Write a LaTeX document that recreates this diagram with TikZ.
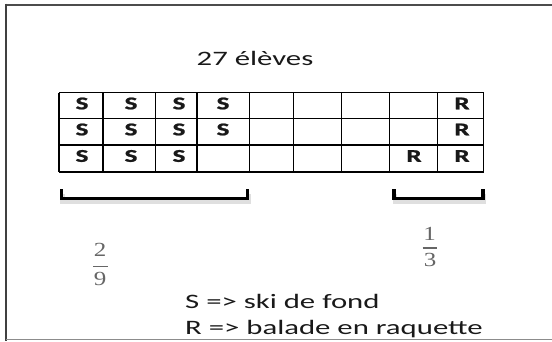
\documentclass[tikz,border=0pt]{standalone}
\usepackage{fontspec}
\newfontfamily\calib{Carlito}
\newfontfamily\fracfont{Liberation Serif}
\newfontfamily\calibheavy[FakeBold=1.2]{Carlito Bold}
\newcommand{\hstretch}[1]{\scalebox{1.5}[1]{#1}}
\newcommand{\fstretch}[1]{\scalebox{1.25}[1]{#1}}
\tikzset{
  frameline/.style={line width=2pt, black!70},
  gridline/.style={line width=1.4pt, black},
  cellletter/.style={inner sep=0pt, text=black!90, font=\calibheavy\fontsize{18}{20}\selectfont},
  bigtext/.style={inner sep=0pt, text=black!90, font=\calib\fontsize{20.5}{24}\selectfont},
  bracketline/.style={line width=3.4pt, black, line cap=rect},
  bracketshadow/.style={line width=4.5pt, black!25, opacity=0.5},
  fracdigit/.style={inner sep=0pt, text=black!60, font=\fracfont\fontsize{20}{22}\selectfont},
  fracbar/.style={line width=1.4pt, black!60}
}
\begin{document}
\begin{tikzpicture}[x=1pt,y=-1pt]
\useasboundingbox (0,0) rectangle (552,341);
% frame
\draw[frameline] (5,4.5) -- (552,4.5);
\draw[line width=2.5pt, black!75] (6,3.5) -- (6,341);
\draw[line width=1.5pt, black!45] (6,339.5) -- (552,339.5);
% title
\node[bigtext, anchor=base] (title) at (255,65.5) {\hstretch{27 élèves}};
% grid
\foreach \xx in {58.8,103,155.5,197,249.7,293.3,341.6,389.5,437.6,483.6}
  \draw[gridline] (\xx,92.5) -- (\xx,172);
\foreach \yy in {92.5,118.3,144.8,172}
  \draw[gridline] (58.8,\yy) -- (483.6,\yy);
% letters
\node[cellletter] (s11) at (82,103.5) {\hstretch{S}};
\node[cellletter] (s12) at (131,103.5) {\hstretch{S}};
\node[cellletter] (s13) at (179,103.5) {\hstretch{S}};
\node[cellletter] (s14) at (223,103.5) {\hstretch{S}};
\node[cellletter] (r19) at (462,103.5) {\hstretch{R}};
\node[cellletter] (s21) at (82,129.5) {\hstretch{S}};
\node[cellletter] (s22) at (131,129.5) {\hstretch{S}};
\node[cellletter] (s23) at (179,129.5) {\hstretch{S}};
\node[cellletter] (s24) at (223,129.5) {\hstretch{S}};
\node[cellletter] (r29) at (462,129.5) {\hstretch{R}};
\node[cellletter] (s31) at (82,156) {\hstretch{S}};
\node[cellletter] (s32) at (131,156) {\hstretch{S}};
\node[cellletter] (s33) at (179,156) {\hstretch{S}};
\node[cellletter] (r38) at (414,156) {\hstretch{R}};
\node[cellletter] (r39) at (462,156) {\hstretch{R}};
% brackets with soft shadow
\draw[bracketshadow] (62.5,194) -- (62.5,202) -- (248.5,202) -- (248.5,194);
\draw[bracketshadow] (395,194) -- (395,202) -- (484,202) -- (484,194);
\draw[bracketline] (61.5,191) -- (61.5,198.3) -- (247.5,198.3) -- (247.5,191);
\draw[bracketline] (394,191) -- (394,198.3) -- (483,198.3) -- (483,191);
% fractions
\node[fracdigit] (n2) at (100,249.5) {\fstretch{2}};
\draw[fracbar] (93,266.5) -- (108,266.5);
\node[fracdigit] (d9) at (100,279) {\fstretch{9}};
\node[fracdigit] (n1) at (429.5,234) {\fstretch{1}};
\draw[fracbar] (422.5,248) -- (437,248);
\node[fracdigit] (d3) at (430,260) {\fstretch{3}};
% legend
\node[bigtext, anchor=base west] (legS) at (185,308) {\hstretch{S => ski de fond}};
\node[bigtext, anchor=base west] (legR) at (185,334) {\hstretch{R => balade en raquette}};
\end{tikzpicture}
\end{document}
